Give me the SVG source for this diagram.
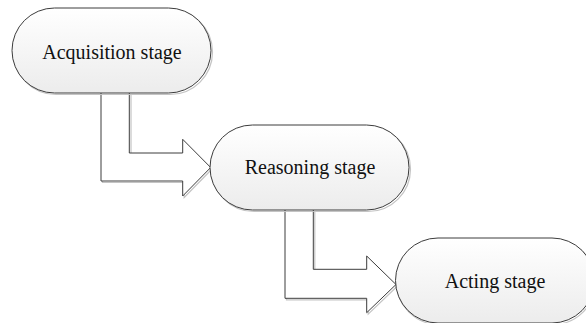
<svg xmlns="http://www.w3.org/2000/svg" width="586" height="323" viewBox="0 0 586 323">
  <defs>
    <linearGradient id="nodeFill" x1="0" y1="0" x2="0" y2="1">
      <stop offset="0" stop-color="#ffffff"/>
      <stop offset="1" stop-color="#ececec"/>
    </linearGradient>
    <style>
      .node { fill: url(#nodeFill); stroke: #3c3c3c; stroke-width: 1; }
      .shade { fill: none; stroke: #c4c4c4; stroke-width: 1.2; }
      .arrow { fill: #ffffff; stroke: #3c3c3c; stroke-width: 1; stroke-linejoin: miter; }
      .label { font-family: "Liberation Serif", "Times New Roman", serif; font-size: 20px; fill: #111111; text-anchor: middle; }
    </style>
  </defs>
  <rect x="0" y="0" width="586" height="323" fill="#ffffff"/>

  <!-- block arrows between stages -->
  <g id="connectors">
    <path class="shade" d="M102.5,94 V182.5 H184.2 V197.5 L212,169 M131,94 V154.5 H184.2 V141"/>
    <path class="arrow" d="M101,93 V181 H182.7 V196 L210.7,167.5 L182.7,139.3 V153 H129.3 V93"/>
    <path class="shade" d="M286.5,211 V299.8 H368.2 V314.2 L397.5,286 M314.8,211 V270.8 H368.2 V257.5"/>
    <path class="arrow" d="M285,210 V298.3 H366.7 V312.7 L396,284.5 L366.7,256 V269.3 H313.3 V210"/>
  </g>

  <g id="node-acquisition">
    <rect class="shade" x="13.5" y="9.5" width="199" height="85" rx="42.5" ry="42.5"/>
    <rect class="node" x="12" y="8" width="199" height="85" rx="42.5" ry="42.5"/>
    <text class="label" x="112" y="58.5">Acquisition stage</text>
  </g>

  <g id="node-reasoning">
    <rect class="shade" x="211.5" y="126.5" width="199" height="85" rx="42.5" ry="42.5"/>
    <rect class="node" x="210" y="125" width="199" height="85" rx="42.5" ry="42.5"/>
    <text class="label" x="310" y="174">Reasoning stage</text>
  </g>

  <g id="node-acting">
    <rect class="shade" x="396.5" y="239.5" width="199" height="85" rx="42.5" ry="42.5"/>
    <rect class="node" x="395.5" y="238" width="199" height="85" rx="42.5" ry="42.5"/>
    <text class="label" x="495" y="287.5">Acting stage</text>
  </g>
</svg>
